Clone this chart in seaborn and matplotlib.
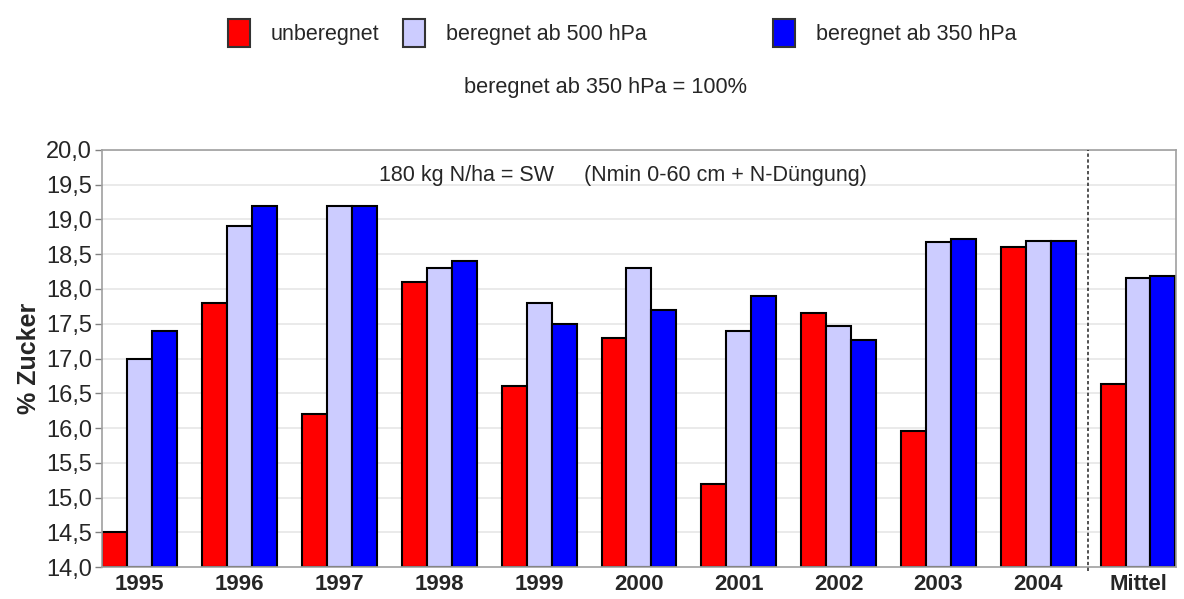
import seaborn as sns
import matplotlib.pyplot as plt
import matplotlib.patches as mpatches
import pandas as pd

# Daten
jahre = ["1995", "1996", "1997", "1998", "1999", "2000", "2001", "2002", "2003", "2004", "Mittel"]
varianten = ["unberegnet", "beregnet ab 500 hPa", "beregnet ab 350 hPa"]
unberegnet = [14.5, 17.8, 16.2, 18.1, 16.6, 17.3, 15.2, 17.66, 15.95, 18.6, 16.64]
ab_500 = [17.0, 18.9, 19.2, 18.3, 17.8, 18.3, 17.4, 17.47, 18.67, 18.69, 18.16]
ab_350 = [17.4, 19.2, 19.2, 18.4, 17.5, 17.7, 17.9, 17.27, 18.72, 18.69, 18.18]
farben = ["#FF0000", "#CCCCFF", "#0000FF"]

df = pd.DataFrame({
    "Jahr": jahre * 3,
    "Variante": [varianten[0]] * 11 + [varianten[1]] * 11 + [varianten[2]] * 11,
    "Zucker": unberegnet + ab_500 + ab_350,
})

sns.set_style("white")
plt.rcParams['font.family'] = ['Liberation Sans', 'DejaVu Sans']

fig = plt.figure(figsize=(11.84, 5.99), dpi=100)
ax = fig.add_axes([0.0861, 0.0534, 0.9932 - 0.0861, 0.7496 - 0.0534])

# Gitterlinien
for y in [14.5 + 0.5 * i for i in range(12)]:
    ax.axhline(y, color="#E6E6E6", lw=1.2, zorder=0)

sns.barplot(data=df, x="Jahr", y="Zucker", hue="Variante", palette=farben,
            width=0.75, edgecolor="black", linewidth=1.5, saturation=1,
            legend=False, ax=ax, zorder=2)

# Balken müssen bei 14,0 beginnen
for p in ax.patches:
    h = p.get_height()
    p.set_y(14.0)
    p.set_height(h - 14.0)

ax.set_ylim(14.0, 20.0)
ax.set_xlim(-0.38, 10.38)
ax.set_yticks([14.0 + 0.5 * i for i in range(13)])
ax.set_yticklabels([f"{14.0 + 0.5 * i:.1f}".replace(".", ",") for i in range(13)], fontsize=17)
ax.set_xticks(range(11))
ax.set_xticklabels(jahre, fontsize=16, fontweight="bold")
ax.tick_params(axis="y", length=5, width=1, color="#808080", pad=2, left=True)
ax.tick_params(axis="x", length=0, pad=5)
ax.set_xlabel("")
ax.set_ylabel("% Zucker", fontsize=18, fontweight="bold", labelpad=4)
for s in ax.spines.values():
    s.set_color("#A0A0A0")
    s.set_linewidth(1.2)

ax.axvline(9.5, color="#333333", lw=1.2, ls=(0, (2, 1.5)), ymin=-0.01, ymax=1, clip_on=False, zorder=3)

ax.text(0.485, 0.965, "180 kg N/ha = SW     (Nmin 0-60 cm + N-Düngung)",
        transform=ax.transAxes, ha="center", va="top", fontsize=15.5)

# Legende oben
for x0, name, c in zip([228, 403, 773], varianten, farben):
    h = mpatches.Patch(facecolor=c, edgecolor="#333333", linewidth=1.5, label=name)
    fig.legend(handles=[h], loc="upper left", bbox_to_anchor=(x0 / 1184, 1 - 19 / 599),
               frameon=False, fontsize=15.5, borderpad=0, borderaxespad=0,
               handlelength=1.0, handleheight=1.6, handletextpad=1.0)

fig.text(605 / 1184, 1 - 88 / 599, "beregnet ab 350 hPa = 100%", ha="center", va="center", fontsize=15.7)

fig.savefig("out.png", dpi=100)
